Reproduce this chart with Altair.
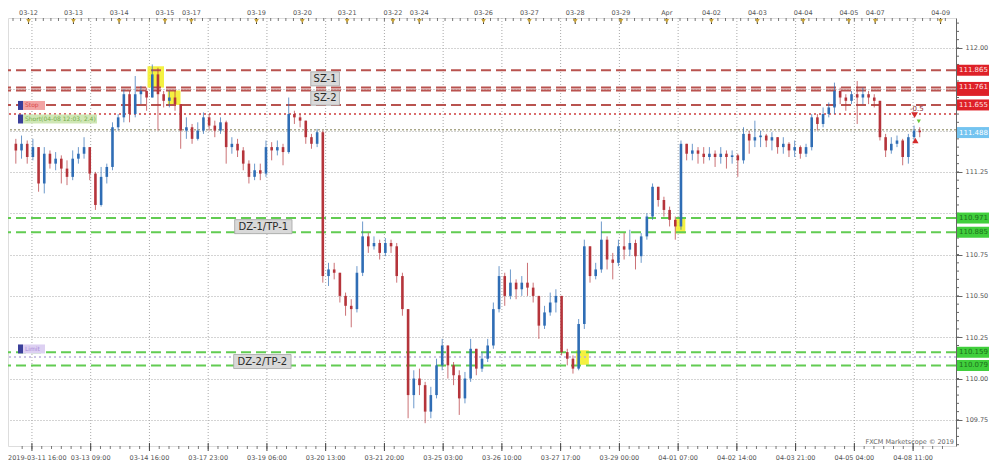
import altair as alt
import pandas as pd

# ---------------- data ----------------
first_open = 111.42
closes = [
    111.38, 111.42, 111.34, 111.40, 111.18, 111.36, 111.30, 111.33, 111.27, 111.22,
    111.33, 111.36, 111.40, 111.24, 111.05, 111.22, 111.28, 111.52, 111.58, 111.72,
    111.60, 111.72, 111.74, 111.70, 111.84, 111.72, 111.68, 111.70, 111.66, 111.50,
    111.52, 111.45, 111.50, 111.58, 111.53, 111.50, 111.55, 111.40, 111.42, 111.38,
    111.30, 111.22, 111.26, 111.24, 111.40, 111.38, 111.40, 111.37, 111.60, 111.58,
    111.56, 111.46, 111.42, 111.49, 110.62, 110.66, 110.64, 110.50, 110.44, 110.42,
    110.64, 110.86, 110.80, 110.82, 110.76, 110.82, 110.80, 110.62, 110.42, 109.90,
    110.00, 109.96, 109.80, 109.90, 110.08, 110.20, 110.08, 110.02, 109.88, 110.00,
    110.18, 110.06, 110.12, 110.20, 110.42, 110.62, 110.50, 110.58, 110.54, 110.58,
    110.55, 110.50, 110.32, 110.40, 110.46, 110.50, 110.16, 110.12, 110.06, 110.33,
    110.80, 110.62, 110.66, 110.84, 110.72, 110.70, 110.80, 110.78, 110.82, 110.74,
    110.86, 110.98, 111.16, 111.08, 111.02, 110.96, 110.92, 111.42, 111.36, 111.38,
    111.36, 111.34, 111.36, 111.34, 111.36, 111.34, 111.35, 111.32, 111.48, 111.44,
    111.46, 111.47, 111.44, 111.46, 111.40, 111.42, 111.38, 111.40, 111.36, 111.40,
    111.58, 111.54, 111.60, 111.64, 111.74, 111.70, 111.68, 111.72, 111.70, 111.72,
    111.70, 111.68, 111.46, 111.38, 111.42, 111.44, 111.34, 111.46, 111.50, 111.49,
]
highs = [
    111.45, 111.47, 111.44, 111.45, 111.40, 111.40, 111.38, 111.37, 111.35, 111.32,
    111.38, 111.40, 111.46, 111.40, 111.25, 111.28, 111.30, 111.55, 111.60, 111.75,
    111.74, 111.83, 111.77, 111.76, 111.90, 111.88, 111.74, 111.74, 111.74, 111.66,
    111.58, 111.54, 111.55, 111.61, 111.60, 111.56, 111.58, 111.56, 111.46, 111.45,
    111.40, 111.32, 111.30, 111.30, 111.44, 111.43, 111.44, 111.42, 111.70, 111.62,
    111.60, 111.56, 111.48, 111.51, 111.50, 110.70, 110.70, 110.64, 110.52, 110.48,
    110.68, 110.95, 110.88, 110.86, 110.84, 110.85, 110.84, 110.82, 110.64, 110.40,
    110.05, 110.06, 109.98, 109.95, 110.12, 110.24, 110.20, 110.10, 110.05, 110.04,
    110.24, 110.18, 110.16, 110.24, 110.46, 110.68, 110.64, 110.66, 110.60, 110.62,
    110.70, 110.58, 110.50, 110.44, 110.52, 110.54, 110.50, 110.18, 110.14, 110.36,
    110.84, 110.80, 110.70, 110.95, 110.86, 110.76, 110.84, 110.88, 110.90, 110.84,
    110.88, 111.00, 111.18, 111.16, 111.10, 111.04, 110.98, 111.44, 111.42, 111.42,
    111.40, 111.40, 111.40, 111.38, 111.40, 111.38, 111.38, 111.36, 111.52, 111.50,
    111.56, 111.50, 111.48, 111.49, 111.46, 111.46, 111.43, 111.44, 111.41, 111.42,
    111.60, 111.60, 111.64, 111.67, 111.79, 111.76, 111.72, 111.74, 111.80, 111.76,
    111.74, 111.72, 111.68, 111.48, 111.46, 111.47, 111.45, 111.48, 111.53, 111.52,
]
lows = [
    111.30, 111.33, 111.30, 111.32, 111.13, 111.12, 111.27, 111.26, 111.18, 111.17,
    111.20, 111.30, 111.33, 111.20, 111.02, 111.04, 111.18, 111.26, 111.50, 111.55,
    111.55, 111.58, 111.66, 111.62, 111.70, 111.50, 111.64, 111.64, 111.62, 111.39,
    111.45, 111.42, 111.44, 111.48, 111.50, 111.46, 111.48, 111.30, 111.36, 111.34,
    111.26, 111.18, 111.20, 111.20, 111.22, 111.32, 111.35, 111.29, 111.36, 111.54,
    111.52, 111.42, 111.39, 111.40, 110.58, 110.56, 110.60, 110.46, 110.38, 110.31,
    110.40, 110.62, 110.76, 110.78, 110.72, 110.74, 110.76, 110.58, 110.38, 109.76,
    109.82, 109.90, 109.73, 109.76, 109.88, 110.05, 110.00, 109.96, 109.78, 109.85,
    109.98, 110.02, 110.04, 110.10, 110.18, 110.40, 110.44, 110.48, 110.48, 110.50,
    110.50, 110.46, 110.24, 110.30, 110.38, 110.40, 110.14, 110.08, 110.03, 110.05,
    110.30, 110.58, 110.60, 110.64, 110.66, 110.60, 110.68, 110.72, 110.74, 110.66,
    110.70, 110.84, 110.96, 111.04, 110.98, 110.92, 110.84, 110.90, 111.32, 111.32,
    111.30, 111.30, 111.32, 111.28, 111.30, 111.27, 111.30, 111.22, 111.30, 111.36,
    111.40, 111.40, 111.40, 111.38, 111.36, 111.36, 111.34, 111.34, 111.33, 111.34,
    111.38, 111.50, 111.52, 111.58, 111.60, 111.66, 111.62, 111.66, 111.54, 111.66,
    111.66, 111.64, 111.44, 111.34, 111.36, 111.40, 111.29, 111.30, 111.44, 111.46,
]
hours_per_candle = 3

bottom_label_hours = [10, 41, 72, 103, 134, 165, 196, 227, 258, 289, 320, 351, 382, 413, 444, 475]
bottom_labels = ["2019-03-11 16:00", "03-13 09:00", "03-14 16:00", "03-17 23:00", "03-19 06:00",
                 "03-20 13:00", "03-21 20:00", "03-25 03:00", "03-26 10:00", "03-27 17:00",
                 "03-29 00:00", "04-01 07:00", "04-02 14:00", "04-03 21:00", "04-05 04:00",
                 "04-08 11:00"]
top_label_hours = [8.2, 31.9, 56.0, 80.2, 94.1, 128.5, 152.7, 176.3, 200.5, 214.4, 248.3,
                   272.5, 296.7, 320.8, 345.0, 368.6, 392.8, 417.0, 441.1, 455.0, 489.5]
top_labels = ["03-12", "03-13", "03-14", "03-15", "03-17", "03-19", "03-20", "03-21", "03-22",
              "03-24", "03-26", "03-27", "03-28", "03-29", "Apr", "04-02", "04-03", "04-04",
              "04-05", "04-07", "04-09"]
y_ticks = [109.75, 110.00, 110.25, 110.50, 110.75, 111.00, 111.25, 111.50, 111.75, 112.00]
y_ticks_hidden = [111.00, 111.50, 111.75]   # covered by the price boxes in the reference

supply_levels = [111.865, 111.761, 111.743, 111.655]
demand_levels = [110.971, 110.885, 110.159, 110.079]
stop_level = 111.600
short_level = 111.505
limit_level = 110.130

right_label_values = [111.865, 111.743, 111.761, 111.655, 111.488, 110.971, 110.885, 110.159, 110.079]
right_label_kind = ["supply", "supply", "supply", "supply", "price", "demand", "demand", "demand", "demand"]
right_label_show = [True, False, True, True, True, True, True, True, True]

zone_names = ["SZ-1", "SZ-2", "DZ-1/TP-1", "DZ-2/TP-2"]
zone_hour = [164.7, 164.7, 132.1, 131.6]
zone_price = [111.813, 111.696, 110.919, 110.103]
zone_box_px = [29, 29, 58, 58]

touch_h1 = [71.0, 81.7, 297.2, 349.6]
touch_h2 = [79.7, 88.4, 303.9, 354.8]
touch_p1 = [111.889, 111.743, 110.171, 110.971]
touch_p2 = [111.760, 111.655, 110.083, 110.878]

order_names = ["Stop", "Short(04-08 12:03, 2.4)", "Limit"]
order_price = [111.652, 111.570, 110.179]

# ---------------- layout ----------------
W, H = 948, 428
X0, X1 = 0, 495
Y0, Y1 = 109.592, 112.181
ppu = H / (Y1 - Y0)      # pixels per price unit
pph = W / (X1 - X0)      # pixels per hour
FONT = "DejaVu Sans"
BLUE, RED = "#2f6db5", "#b5343b"

hidden_expr = "[" + ",".join(str(v) for v in y_ticks_hidden) + "]"
xscale = alt.Scale(domain=[X0, X1], nice=False, zero=False)
yscale = alt.Scale(domain=[Y0, Y1], nice=False, zero=False)
yaxis = alt.Axis(orient="right", values=y_ticks, grid=True, gridDash=[1, 2],
                 labelExpr=f"indexof({hidden_expr}, datum.value) >= 0 ? '' : format(datum.value, '.2f')",
                 gridColor="#a9a9a9", domainColor="#666", tickColor="#666", tickSize=6,
                 labelFontSize=6.5, labelColor="#555", labelFont=FONT, labelPadding=3, title=None)


def X(f):
    return alt.X(f, type="quantitative", scale=xscale, axis=None)


def Y(f):
    return alt.Y(f, type="quantitative", scale=yscale, axis=yaxis)


# candles
opens = [first_open] + closes[:-1]
rows = []
for i, (o, h, l, c) in enumerate(zip(opens, highs, lows, closes)):
    rows.append(dict(t=hours_per_candle * i + hours_per_candle / 2, open=o, close=c,
                     high=max(h, o, c), low=min(l, o, c), dir="up" if c >= o else "down"))
candles = pd.DataFrame(rows)
cdir = alt.Color("dir:N", scale=alt.Scale(domain=["up", "down"], range=[BLUE, RED]), legend=None)

base_c = alt.Chart(candles)
wicks = base_c.mark_rule(strokeWidth=1, opacity=0.7).encode(x=X("t"), y=Y("low"), y2="high", color=cdir)
bodies = base_c.mark_bar(size=2.6).encode(x=X("t"), y=Y("open"), y2="close", color=cdir)

# grid verticals
vgrid = alt.Chart(pd.DataFrame({"h": bottom_label_hours})).mark_rule(
    strokeDash=[1, 2], color="#a9a9a9").encode(x=X("h"))

# touches (yellow)
touch = alt.Chart(pd.DataFrame({"h1": touch_h1, "h2": touch_h2, "p1": touch_p1, "p2": touch_p2})).mark_rect(
    color="#f3ef2c", opacity=0.9).encode(x=X("h1"), x2="h2", y=Y("p1"), y2="p2")

# horizontal levels
supply = alt.Chart(pd.DataFrame({"p": supply_levels})).mark_rule(
    color="#b9534f", strokeWidth=2, strokeDash=[10, 5]).encode(y=Y("p"))
demand = alt.Chart(pd.DataFrame({"p": demand_levels})).mark_rule(
    color="#62cc52", strokeWidth=2, strokeDash=[10, 5]).encode(y=Y("p"))
stop_line = alt.Chart(pd.DataFrame({"p": [stop_level]})).mark_rule(
    color="#d03c3c", strokeWidth=1.5, strokeDash=[2, 3]).encode(y=Y("p"))
short_line = alt.Chart(pd.DataFrame({"p": [short_level]})).mark_rule(
    color="#aaa88a", strokeWidth=1.5, strokeDash=[2, 2]).encode(y=Y("p"))
limit_line = alt.Chart(pd.DataFrame({"p": [limit_level]})).mark_rule(
    color="#b9aedb", strokeWidth=1.5, strokeDash=[2, 3]).encode(y=Y("p"))

# zone labels
zdf = pd.DataFrame({"name": zone_names, "h": zone_hour, "p": zone_price, "w": zone_box_px})
zdf["h1"] = zdf["h"] - zdf["w"] / 2 / pph
zdf["h2"] = zdf["h"] + zdf["w"] / 2 / pph
zdf["p1"] = zdf["p"] - 7 / ppu
zdf["p2"] = zdf["p"] + 7 / ppu
zbox = alt.Chart(zdf).mark_rect(fill="#d9d9d9", stroke="#a5a5a5", strokeWidth=0.8).encode(
    x=X("h1"), x2="h2", y=Y("p1"), y2="p2")
ztext = alt.Chart(zdf).mark_text(font=FONT, fontSize=10, color="#2a2a2a", baseline="middle").encode(
    x=X("h"), y=Y("p"), text="name:N")

# order markers (left)
odf = pd.DataFrame({"name": order_names, "p": order_price,
                    "fill": ["#f2a3a3", "#cfe7b4", "#ddd0f2"],
                    "tc": ["#d84848", "#76ad4c", "#a98bd8"],
                    "w": [22, 74, 22]})
odf["p1"] = odf["p"] - 4.5 / ppu
odf["p2"] = odf["p"] + 4.5 / ppu
osq = alt.Chart(odf).mark_rect(color="#3a3f9a").encode(
    x=alt.value(10), x2=alt.value(15), y=Y("p1"), y2="p2")
obox_parts = []
for _, r in odf.iterrows():
    one = pd.DataFrame([r])
    obox_parts.append(alt.Chart(one).mark_rect(fill=r["fill"]).encode(
        x=alt.value(15), x2=alt.value(15 + r["w"]), y=Y("p1"), y2="p2"))
    obox_parts.append(alt.Chart(one).mark_text(font=FONT, fontSize=6, color=r["tc"], align="left",
                                               baseline="middle").encode(
        x=alt.value(17), y=Y("p"), text="name:N"))

# right price labels
fill_map = {"supply": "#de2128", "price": "#74c4f0", "demand": "#40cf3c"}
text_map = {"supply": "#ffe2e2", "price": "#ffffff", "demand": "#1b6e1b"}
rdf = pd.DataFrame({"p": right_label_values, "kind": right_label_kind, "show": right_label_show})
rdf["fill"] = rdf["kind"].map(fill_map)
rdf["tc"] = rdf["kind"].map(text_map)
rdf["label"] = rdf["p"].map(lambda v: f"{v:.3f}")
rdf["p1"] = rdf["p"] - 5.5 / ppu
rdf["p2"] = rdf["p"] + 5.5 / ppu
rlayers = []
for _, r in rdf.iterrows():
    one = pd.DataFrame([r])
    rlayers.append(alt.Chart(one).mark_rect(fill=r["fill"]).encode(
        x=alt.value(W + 1), x2=alt.value(W + 33), y=Y("p1"), y2="p2"))
    if r["show"]:
        rlayers.append(alt.Chart(one).mark_text(font=FONT, fontSize=7, color=r["tc"], align="left",
                                                baseline="middle").encode(
            x=alt.value(W + 3), y=Y("p"), text="label:N"))

# right minor ticks
minor_p = [round(109.60 + 0.05 * k, 2) for k in range(52)]
rminor = alt.Chart(pd.DataFrame({"p": minor_p})).mark_rule(color="#666", strokeWidth=1).encode(
    x=alt.value(W), x2=alt.value(W + 3), y=Y("p"))

# top strip
top_minor = alt.Chart(pd.DataFrame({"h": [4 * k for k in range(124)]})).mark_rule(
    color="#555", strokeWidth=0.8).encode(x=X("h"), y=alt.value(0), y2=alt.value(3))
tdf = pd.DataFrame({"h": top_label_hours, "label": top_labels})
top_major = alt.Chart(tdf).mark_rule(color="#333", strokeWidth=1).encode(
    x=X("h"), y=alt.value(0), y2=alt.value(6))
top_tri = alt.Chart(tdf).mark_point(shape="triangle-down", filled=True, size=22, color="#c9a43a",
                                    opacity=1).encode(x=X("h"), y=alt.value(3))
top_text = alt.Chart(tdf).mark_text(font=FONT, fontSize=6.5, color="#555", baseline="middle").encode(
    x=X("h"), y=alt.value(-5), text="label:N")

# bottom strip
bdf = pd.DataFrame({"h": bottom_label_hours, "label": bottom_labels})
bot_minor_h = [10 + 31 * k / 6 for k in range(-1, 94)]
bot_minor = alt.Chart(pd.DataFrame({"h": bot_minor_h})).mark_rule(color="#555", strokeWidth=0.8).encode(
    x=X("h"), y=alt.value(H), y2=alt.value(H + 3))
bot_major = alt.Chart(bdf).mark_rule(color="#444", strokeWidth=1).encode(
    x=X("h"), y=alt.value(H - 3), y2=alt.value(H + 5))
bot_text = alt.Chart(bdf.iloc[1:]).mark_text(font=FONT, fontSize=6.5, color="#555", baseline="middle").encode(
    x=X("h"), y=alt.value(H + 12), text="label:N")
bot_first = alt.Chart(bdf.iloc[:1]).mark_text(font=FONT, fontSize=6.5, color="#555", baseline="middle",
                                              align="left").encode(
    x=alt.value(0), y=alt.value(H + 12), text="label:N")

# trade markers near the last bar
mk = pd.DataFrame({"h": [477.0], "p": [111.632], "txt": ["-0.5"]})
mk_text = alt.Chart(mk).mark_text(font=FONT, fontSize=7, color="#8a2a2a").encode(
    x=X("h"), y=Y("p"), text="txt:N")
mk_red = alt.Chart(pd.DataFrame({"h": [475.8], "p": [111.593]})).mark_point(
    shape="triangle-down", filled=True, size=45, color="#d42a2a", opacity=1).encode(x=X("h"), y=Y("p"))
mk_green = alt.Chart(pd.DataFrame({"h": [478.0], "p": [111.556]})).mark_point(
    shape="triangle-down", filled=True, size=18, color="#6cc83a", opacity=1).encode(x=X("h"), y=Y("p"))
mk_red2 = alt.Chart(pd.DataFrame({"h": [476.2], "p": [111.44]})).mark_point(
    shape="triangle-up", filled=True, size=40, color="#d42a2a", opacity=1).encode(x=X("h"), y=Y("p"))

watermark = alt.Chart(pd.DataFrame({"t": ["FXCM Marketscope © 2019"]})).mark_text(
    font=FONT, fontSize=6.5, color="#666", align="right", baseline="bottom").encode(
    x=alt.value(W - 2), y=alt.value(H - 1), text="t:N")

chart = alt.layer(
    vgrid, touch, supply, demand, stop_line, short_line, limit_line,
    wicks, bodies, zbox, ztext, osq, *obox_parts, rminor, *rlayers,
    top_minor, top_major, top_tri, top_text, bot_minor, bot_major, bot_text, bot_first,
    mk_text, mk_red, mk_green, mk_red2, watermark,
).properties(
    width=W, height=H,
    padding={"left": 0, "top": 10, "right": 34, "bottom": 18},
    autosize=alt.AutoSizeParams(type="none"),
).configure_view(stroke="#777", strokeWidth=1, fill="white").configure(background="white")

chart.save("out.html", embed_options={"renderer": "svg", "actions": False})
